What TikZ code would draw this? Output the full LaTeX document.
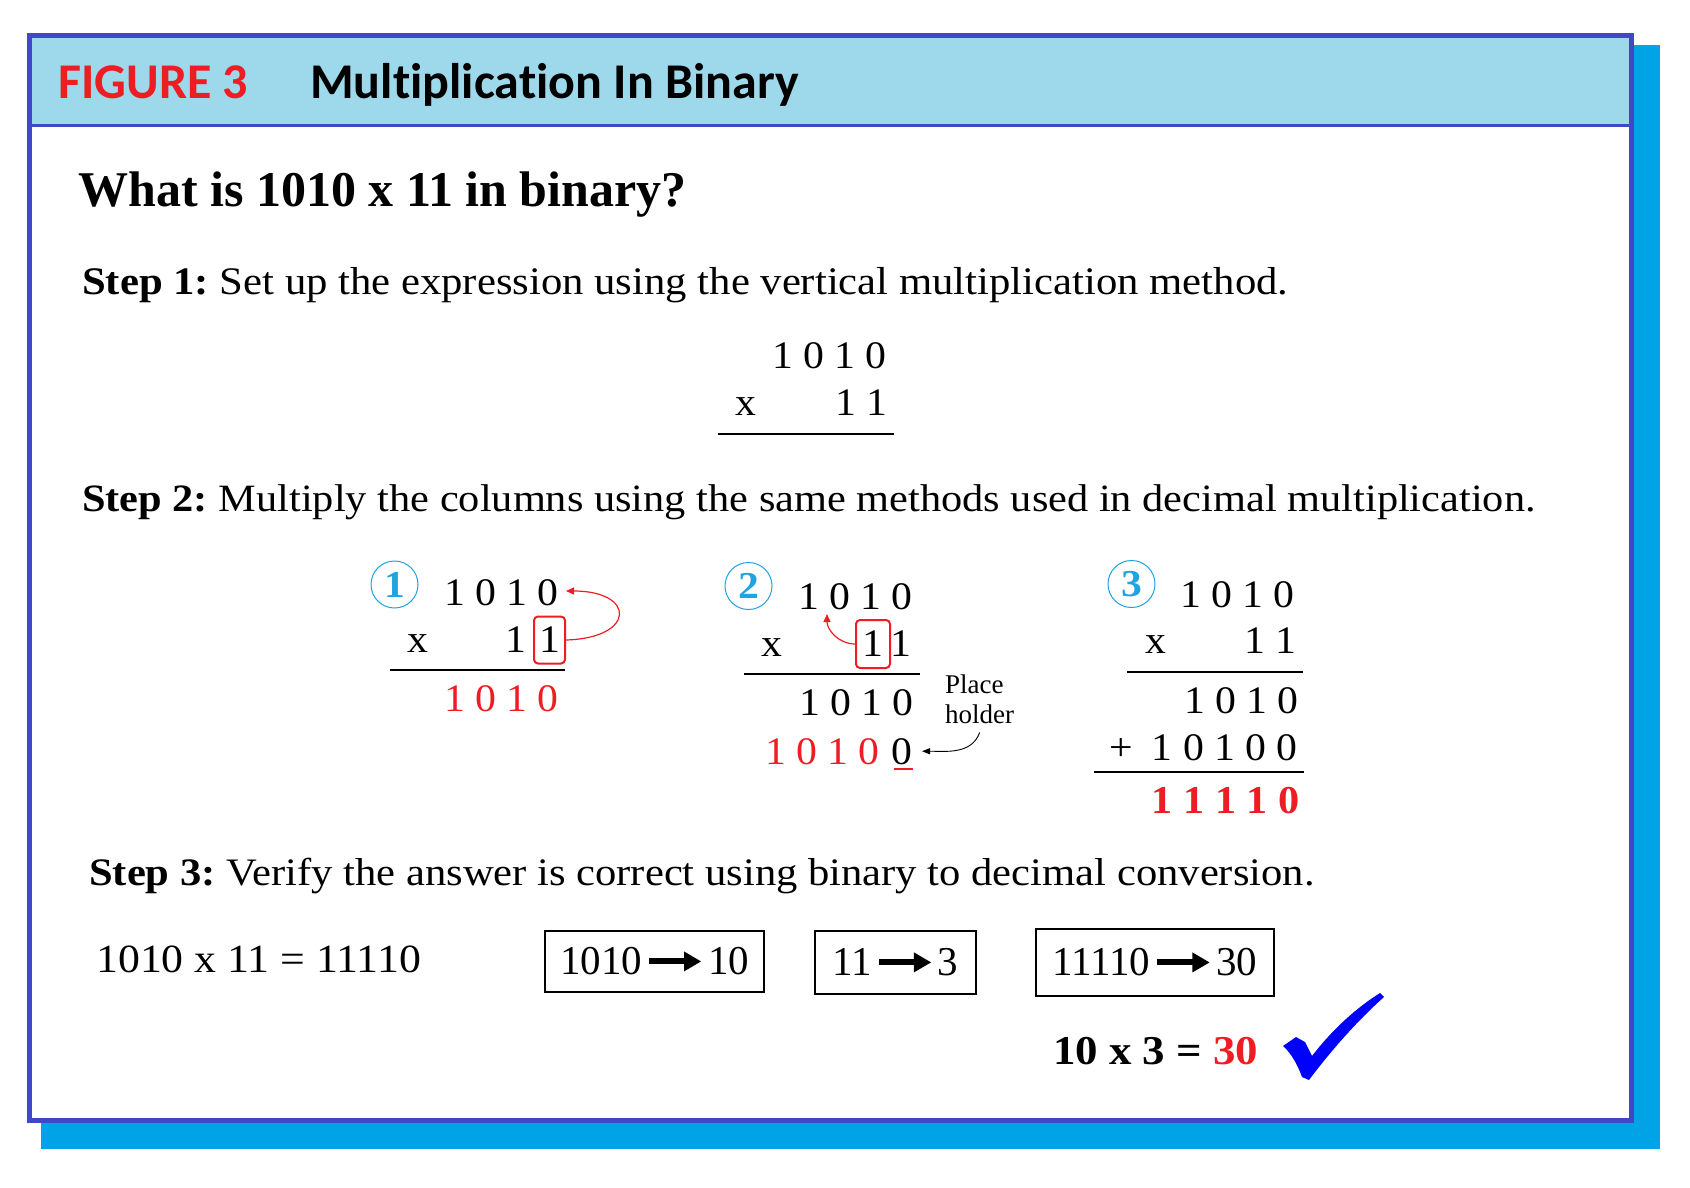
\documentclass[tikz,border=0pt]{standalone}
\usepackage{fontspec}
\setmainfont[FakeStretch=1.095]{Liberation Serif}
\newfontfamily\digitfont[FakeStretch=1.07]{Liberation Serif}
\newfontfamily\plainserif{Liberation Serif}
\newfontfamily\headfont[Ligatures={NoCommon,NoContextual}]{Carlito}
\usetikzlibrary{arrows.meta}
\definecolor{framecol}{HTML}{4148C8}
\definecolor{headbg}{HTML}{9DD9EA}
\definecolor{shadowcol}{HTML}{00A3E5}
\definecolor{figred}{HTML}{EE1D24}
\definecolor{ringcol}{HTML}{1FA3E3}
\definecolor{tickblue}{HTML}{0000FF}
\newcommand{\pxsize}[1]{\fontsize{#1pt}{#1pt}\selectfont}
\newcommand{\fatarrow}{\tikz[baseline=-13.5pt]{\fill[black] (0pt,-3pt) rectangle (36pt,3pt); \fill[black] (35pt,-10pt) -- (52pt,0pt) -- (35pt,10pt) -- cycle;}}
\newcommand{\conv}[2]{#1\hspace{7pt}\fatarrow\hspace{7pt}#2}
\frenchspacing

\begin{document}
\begin{tikzpicture}[x=1pt,y=-1pt,
  headtxt/.style={anchor=base west,inner sep=0pt,font=\headfont\bfseries\pxsize{50}},
  titletxt/.style={anchor=base west,inner sep=0pt,font=\plainserif\bfseries\pxsize{50}},
  steptxt/.style={anchor=base west,inner sep=0pt,font=\pxsize{39}},
  num/.style={anchor=base east,inner sep=0pt,font=\digitfont\pxsize{39}},
  times/.style={anchor=base west,inner sep=0pt,font=\digitfont\pxsize{39}},
  ring/.style={circle,draw=ringcol,line width=1pt,minimum size=47pt,inner sep=0pt,
               text=ringcol,font=\bfseries\pxsize{38}},
  pick/.style={draw=figred,line width=2pt,rounded corners=4pt,inner sep=0pt,font=\digitfont\pxsize{39}},
  rule/.style={line width=1.5pt},
  redarr/.style={-{Triangle[length=8pt,width=7pt]},figred,line width=1.2pt},
  notearr/.style={-{Triangle[length=8pt,width=6pt]},line width=0.9pt},
  conv/.style={draw,line width=1.5pt,inner sep=0pt,font=\plainserif\pxsize{41}},
  small/.style={anchor=base west,inner sep=0pt,font=\plainserif\pxsize{27}}
]
  \useasboundingbox (0,0) rectangle (1690,1188);
  \fill[shadowcol] (41,45) rectangle (1660,1149);
  \fill[white] (29.5,35.5) rectangle (1631.5,1120.5);
  \fill[headbg] (29.5,35.5) rectangle (1631.5,125.3);
  \draw[framecol,line width=3.5pt] (29.5,125.3) -- (1631.5,125.3);
  \draw[framecol,line width=5pt] (29.5,35.5) rectangle (1631.5,1120.5);

  \node[headtxt,text=figred] (fig)  at (58,99)  {FIGURE 3};
  \node[headtxt]             (head) at (310,99) {Multiplication In Binary};

  \node[titletxt] (question) at (78,207) {What is 1010 x 11 in binary?};
  \node[steptxt] (step1) at (82,294) {\textbf{Step 1:} Set up the expression using the vertical multiplication method.};
  \node[steptxt,font=\pxsize{38.7}] (step2) at (82,511) {\textbf{Step 2:} Multiply the columns using the same methods used in decimal multiplication.};
  \node[steptxt,font=\pxsize{38.9}] (step3) at (89,885) {\textbf{Step 3:} Verify the answer is correct using binary to decimal conversion.};

  % step 1 set-up
  \node[num]   (s1top) at (887,368) {1 0 1 0};
  \node[times] (s1x)   at (735,415) {x};
  \node[num]   (s1bot) at (888,415) {1 1};
  \draw[rule] (718,434) -- (894,434);

  % step 2, first digit
  \node[ring]  (c1)    at (394.5,584.5) {1};
  \node[num]   (p1top) at (559,605) {1 0 1 0};
  \node[times] (p1x)   at (407,652) {x};
  \node[num]   (p1one) at (527,652) {1};
  \node[pick,minimum width=31pt,minimum height=47pt] (p1box) at (549.5,640) {1};
  \draw[rule] (390,670) -- (565,670);
  \node[num,text=figred] (p1res) at (559,711) {1 0 1 0};
  \coordinate (p1tip) at (566,591);
  \draw[redarr] (p1box.east) .. controls +(70,-2) and +(70,0) .. (p1tip);

  % step 2, second digit
  \node[ring]  (c2)    at (748.5,586) {2};
  \node[num]   (p2top) at (913,609) {1 0 1 0};
  \node[times] (p2x)   at (761,656) {x};
  \node[pick,minimum width=34pt,minimum height=48pt] (p2box) at (873,644) {1};
  \node[num]   (p2one) at (912,656) {1};
  \draw[rule] (744,674) -- (920,674);
  \node[num]   (p2mid) at (914,715) {1 0 1 0};
  \node[num,text=figred] (p2red) at (880,764) {1 0 1 0};
  \node[num]   (p2zero) at (913,764) {0};
  \draw[figred,line width=2.5pt] (894,769) -- (913,769);
  \coordinate (p2tip) at (827,614);
  \draw[redarr] (p2box.west) to[out=180,in=-90] (p2tip);
  \node[small] (ph1) at (945,693) {Place};
  \node[small] (ph2) at (945,723) {holder};
  \draw[notearr] ([yshift=-9pt]ph2.south) to[out=-110,in=0] ([xshift=9pt]p2zero.east);

  % step 2, sum
  \node[ring]  (c3)     at (1131.5,584) {3};
  \node[num]   (p3top)  at (1295,607) {1 0 1 0};
  \node[times] (p3x)    at (1145,653) {x};
  \node[num]   (p3bot)  at (1297,653) {1 1};
  \draw[rule] (1127,672) -- (1303,672);
  \node[num]   (p3row1) at (1299,713) {1 0 1 0};
  \node[times] (p3plus) at (1109,760) {+};
  \node[num]   (p3row2) at (1298,760) {1 0 1 0 0};
  \draw[rule] (1094,772) -- (1304,772);
  \node[num,text=figred,font=\digitfont\bfseries\pxsize{39.5}] (p3sum) at (1300,813) {1 1 1 1 0};

  % step 3
  \node[times,font=\pxsize{40}] (eqn) at (96,972) {1010 x 11 = 11110};
  \node[conv,minimum width=219pt,minimum height=61pt] (convA) at (654.5,961.5) {\conv{1010}{10}};
  \node[conv,minimum width=161pt,minimum height=63pt] (convB) at (895.5,962.5) {\conv{11}{3}};
  \node[conv,minimum width=238pt,minimum height=67pt] (convC) at (1155,962.5) {\conv{11110}{30}};
  \node[anchor=base west,inner sep=0pt,font=\bfseries\pxsize{41}] (check) at (1053,1064)
    {10 x 3 = \textcolor{figred}{30}};
  \fill[tickblue] (1283,1046) -- (1296,1037) -- (1305,1042) -- (1312,1056)
    .. controls (1332,1030) and (1356,1008) .. (1380,993) -- (1384,997)
    .. controls (1356,1022) and (1330,1052) .. (1309,1080) -- (1302,1077)
    .. controls (1298,1066) and (1292,1054) .. cycle;
\end{tikzpicture}
\end{document}
